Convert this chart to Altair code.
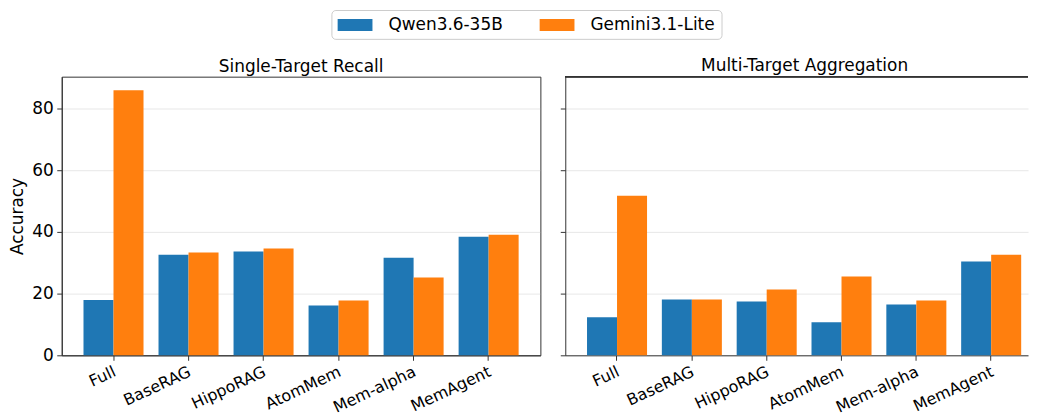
import altair as alt
import pandas as pd

methods = ["Full", "BaseRAG", "HippoRAG", "AtomMem", "Mem-alpha", "MemAgent"]
models = ["Qwen3.6-35B", "Gemini3.1-Lite"]
colors = ["#1f77b4", "#ff7f0e"]

single_qwen = [17.9, 32.6, 33.6, 16.1, 31.6, 38.4]
single_gemini = [85.9, 33.3, 34.6, 17.8, 25.2, 39.1]
multi_qwen = [12.3, 18.1, 17.4, 10.7, 16.5, 30.4]
multi_gemini = [51.7, 18.1, 21.3, 25.5, 17.8, 32.6]

panels = ["Single-Target Recall", "Multi-Target Aggregation"]

PANEL_W = 481      # full panel width (right one is cut by the image edge)
RIGHT_VIS_W = 465  # visible part of the right panel
PANEL_H = 280


def make_df(qwen, gemini):
    rows = []
    for m, q, g in zip(methods, qwen, gemini):
        rows.append({"method": m, "model": models[0], "value": q})
        rows.append({"method": m, "model": models[1], "value": g})
    return pd.DataFrame(rows)


# wide rectangle legend patch (35 x 12 px at symbolSize 306)
rect_path = "M-2,-0.686L2,-0.686L2,0.686L-2,0.686Z"


def bars(show_y, xscale):
    return alt.Chart().mark_bar().encode(
        x=alt.X("method:N", sort=methods, scale=xscale,
                axis=alt.Axis(title=None, labelAngle=-25, labelAlign="right",
                              labelBaseline="top", labelPadding=3,
                              labelOffset=-2, labelFontSize=16)),
        xOffset=alt.XOffset("model:N", sort=models,
                            scale=alt.Scale(paddingInner=0, paddingOuter=0)),
        y=alt.Y("value:Q", scale=alt.Scale(domain=[0, 90.3], nice=False, zero=True),
                axis=alt.Axis(values=[0, 20, 40, 60, 80],
                              title="Accuracy" if show_y else None,
                              labels=show_y, grid=True)),
        color=alt.Color("model:N", sort=models,
                        scale=alt.Scale(domain=models, range=colors),
                        legend=alt.Legend(title=None, orient="none",
                                          legendX=271, legendY=-67,
                                          direction="horizontal",
                                          symbolType=rect_path, symbolSize=306,
                                          symbolOffset=8.75,
                                          symbolStrokeWidth=0,
                                          labelFontSize=17, labelOffset=24.5,
                                          columnPadding=36, padding=6,
                                          strokeColor="#cccccc", fillColor="white",
                                          cornerRadius=4, labelColor="black")),
    )


left = alt.layer(
    bars(True, alt.Scale(paddingInner=0.2, paddingOuter=0.29)),
    data=make_df(single_qwen, single_gemini)
).properties(width=PANEL_W, height=PANEL_H, title=panels[0])

top_border = alt.Chart().mark_rule(color="#333333", strokeWidth=1).encode(
    x=alt.value(0), x2=alt.value(RIGHT_VIS_W), y=alt.value(0))

right = alt.layer(
    bars(False, alt.Scale(paddingInner=0.2, paddingOuter=0.192, align=0.757)),
    top_border,
    data=make_df(multi_qwen, multi_gemini)
).properties(
    width=RIGHT_VIS_W, height=PANEL_H,
    title=alt.TitleParams(panels[1], dx=(PANEL_W - RIGHT_VIS_W) / 2),
    view=alt.ViewBackground(stroke="transparent"),
)

chart = alt.hconcat(left, right, spacing=18).properties(
    padding={"left": 0, "top": 0, "right": 0, "bottom": 0}
).configure(font="DejaVu Sans").configure_view(
    stroke="#333333", strokeWidth=1
).configure_axis(
    labelFontSize=17, titleFontSize=17, labelColor="black", titleColor="black",
    titleFontWeight="normal", domainColor="#333333", tickColor="#333333",
    tickSize=5, gridColor="#b0b0b0", gridOpacity=0.3, labelFont="DejaVu Sans",
    titleFont="DejaVu Sans", zindex=1
).configure_axisY(
    labelPadding=3.5, titlePadding=5
).configure_axisX(
    grid=False
).configure_title(
    fontSize=17, fontWeight="normal", color="black", offset=1, font="DejaVu Sans"
).configure_legend(
    labelFont="DejaVu Sans"
)

chart.save("out.html", embed_options={"renderer": "svg", "actions": False})
